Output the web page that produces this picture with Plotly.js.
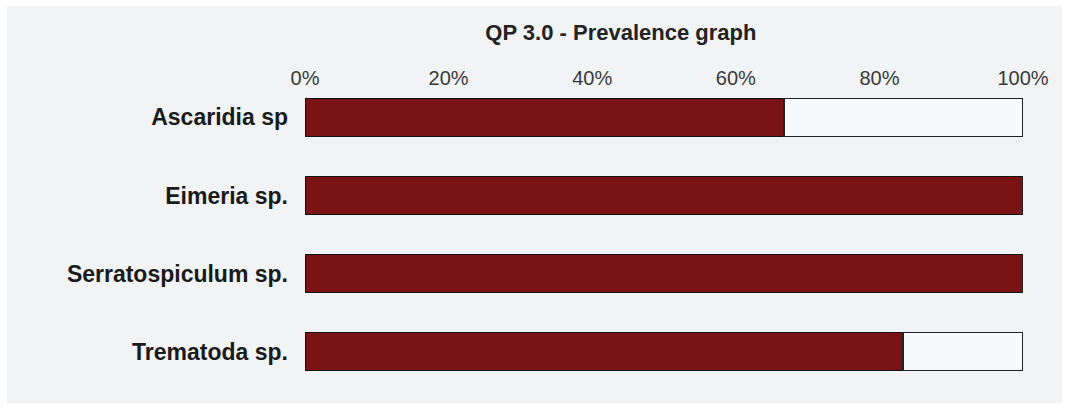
<!DOCTYPE html>
<html>
<head>
<meta charset="utf-8">
<script src="https://cdn.plot.ly/plotly-3.0.1.min.js"></script>
<style>html,body{margin:0;padding:0;background:#ffffff;}#chart{width:1065px;height:406px;}</style>
</head>
<body>
<div id="chart"></div>
<script>
const categories = ["Ascaridia sp", "Eimeria sp.", "Serratospiculum sp.", "Trematoda sp."];
const prevalence = [66.7, 100, 100, 83.3];
const remainder = prevalence.map(v => 100 - v);
const tickValues = [0, 20, 40, 60, 80, 100];
const tickLabels = ["0%", "20%", "40%", "60%", "80%", "100%"];

const traces = [
  {
    type: "bar", orientation: "h", y: categories, x: prevalence,
    marker: {color: "#7a1315", line: {color: "#111111", width: 1.5}},
    width: 0.485, hoverinfo: "x+y", name: "Prevalence"
  },
  {
    type: "bar", orientation: "h", y: categories, x: remainder,
    marker: {color: "#f8f9fa", line: {color: "#222222", width: 1.5}},
    width: 0.485, hoverinfo: "skip", name: "Rest"
  }
];

const layout = {
  width: 1065, height: 406,
  barmode: "stack",
  showlegend: false,
  paper_bgcolor: "#ffffff",
  plot_bgcolor: "#f1f3f5",
  margin: {l: 305, r: 42, t: 90, b: 27, pad: 0},
  font: {family: "Liberation Sans, Arial, sans-serif", color: "#222222"},
  shapes: [{
    type: "rect", xref: "paper", yref: "paper", layer: "below",
    x0: -0.415, x1: 1.0543, y0: -0.083, y1: 1.2907,
    fillcolor: "#f1f3f5", line: {width: 0}
  }],
  title: {
    text: "<b>QP 3.0 - Prevalence graph</b>",
    font: {size: 22, color: "#222222", family: "Liberation Sans, Arial, sans-serif"},
    xref: "container", yref: "container", x: 0.583, y: 0.921,
    xanchor: "center", yanchor: "middle"
  },
  xaxis: {
    side: "top", range: [0, 100], tickvals: tickValues, ticktext: tickLabels,
    showgrid: false, zeroline: false, showline: false, ticks: "",
    tickfont: {size: 20, color: "#3a3a3a"}, fixedrange: true
  },
  yaxis: {
    type: "category", range: [3.35, -0.35],
    showgrid: false, zeroline: false, showline: false, ticks: "",
    ticklabelstandoff: 16,
    tickfont: {size: 23, color: "#1a1a1a", weight: "bold"}, fixedrange: true
  }
};

Plotly.newPlot("chart", traces, layout, {displayModeBar: false, staticPlot: true});
</script>
</body>
</html>
